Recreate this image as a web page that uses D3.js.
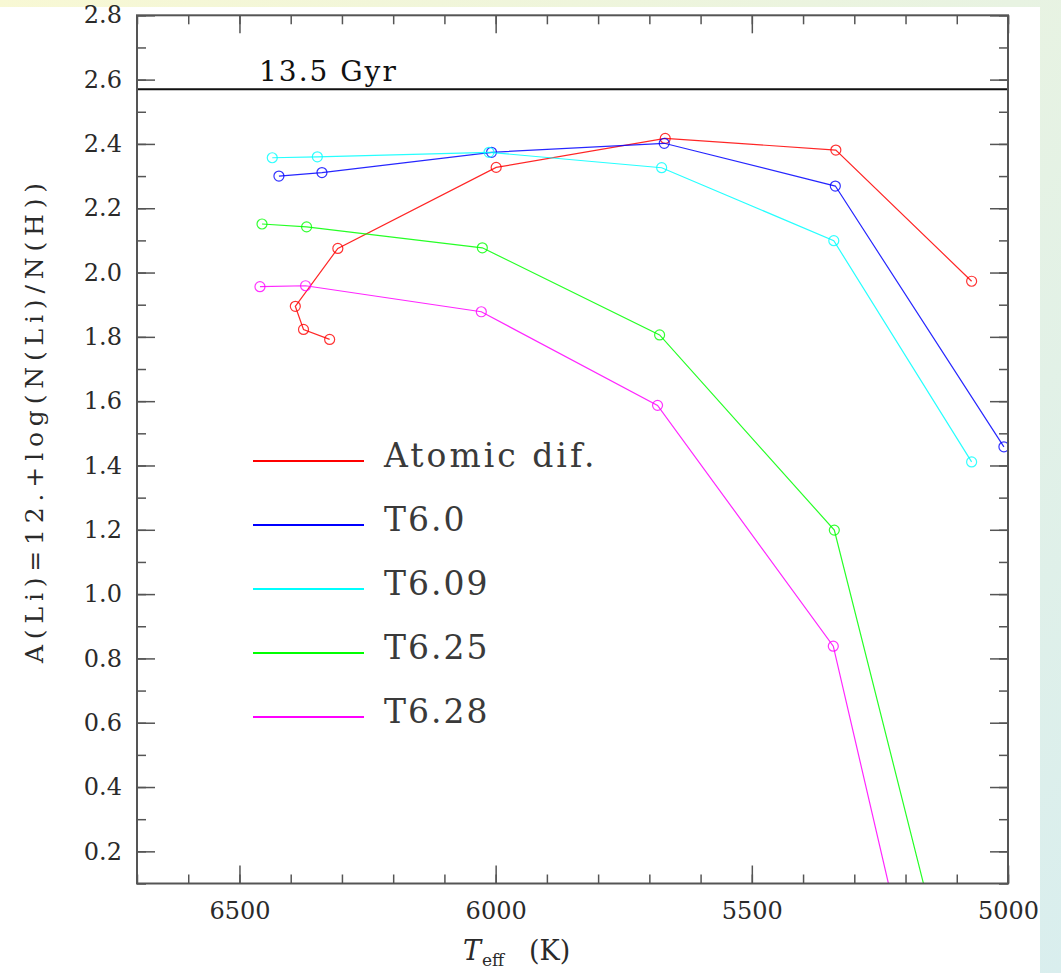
<!DOCTYPE html>
<html>
<head>
<meta charset="utf-8">
<script src="https://cdn.jsdelivr.net/npm/d3@7"></script>
<style>
  html, body { margin: 0; padding: 0; }
  body { width: 1061px; height: 973px; overflow: hidden;
         background: linear-gradient(135deg, #f8f8d4 0%, #e8f3e2 50%, #d9eeee 100%); }
  svg { display: block; }
  text { font-family: "DejaVu Serif", serif; fill: #2a2a2a; }
</style>
</head>
<body>
<svg id="chart" width="1061" height="973"></svg>
<script>
// ---- data ----
const seriesNames = ["Atomic dif.", "T6.0", "T6.09", "T6.25", "T6.28"];
const seriesColors = ["#ff0000", "#0000ff", "#00ffff", "#00ff00", "#ff00ff"];

const teffAtomic = [6324, 6375, 6391, 6308, 5999, 5669, 5336, 5071];
const liAtomic   = [1.792, 1.823, 1.895, 2.075, 2.327, 2.417, 2.381, 1.973];

const teffT60 = [6423, 6339, 6008, 5671, 5337, 5008];
const liT60   = [2.300, 2.311, 2.374, 2.402, 2.269, 1.458];

const teffT609 = [6436, 6348, 6013, 5676, 5340, 5071];
const liT609   = [2.357, 2.360, 2.374, 2.326, 2.099, 1.411];

const teffT625 = [6456, 6369, 6026, 5680, 5339, 5070];
const liT625   = [2.151, 2.142, 2.077, 1.806, 1.199, -0.50];

const teffT628 = [6460, 6371, 6028, 5684, 5341, 5070];
const liT628   = [1.956, 1.959, 1.878, 1.587, 0.838, -1.02];

const ageLineValue = 2.57;
const ageLabel = "13.5 Gyr";

const xMajorTicks = [6500, 6000, 5500, 5000];
const xMinorTicks = d3.range(6700, 4999, -100);
const yMajorTicks = [0.2, 0.4, 0.6, 0.8, 1.0, 1.2, 1.4, 1.6, 1.8, 2.0, 2.2, 2.4, 2.6, 2.8];
const yMinorTicks = d3.range(1, 29).map(d => d / 10);

const xLabelMain = "T", xLabelSub = "eff", xLabelUnit = "(K)";
const yLabel = "A(Li)=12.+log(N(Li)/N(H))";

// ---- layout ----
const svg = d3.select("#chart");
const L = 137, R = 1008, T = 15.3, B = 883.5;

svg.append("rect").attr("x", 0).attr("y", 7).attr("width", 1040).attr("height", 966).attr("fill", "#ffffff");

const x = d3.scaleLinear().domain([6700, 5000]).range([L, R]);
const y = d3.scaleLinear().domain([0.1, 2.8]).range([B, T]);

svg.append("defs").append("clipPath").attr("id", "plotclip")
  .append("rect").attr("x", L).attr("y", T).attr("width", R - L).attr("height", B - T);

const series = [
  { t: teffAtomic, v: liAtomic },
  { t: teffT60, v: liT60 },
  { t: teffT609, v: liT609 },
  { t: teffT625, v: liT625 },
  { t: teffT628, v: liT628 }
].map((s, i) => ({ name: seriesNames[i], color: seriesColors[i],
                   pts: s.t.map((t, j) => ({ t, v: s.v[j] })) }));

const plot = svg.append("g").attr("clip-path", "url(#plotclip)");
const line = d3.line().x(d => x(d.t)).y(d => y(d.v));

series.forEach(s => {
  plot.append("path").datum(s.pts).attr("d", line)
    .attr("fill", "none").attr("stroke", s.color).attr("stroke-width", 1.2).attr("opacity", 0.85);
  plot.selectAll(null).data(s.pts).enter().append("circle")
    .attr("cx", d => x(d.t)).attr("cy", d => y(d.v)).attr("r", 5)
    .attr("fill", "none").attr("stroke", s.color).attr("stroke-width", 1.2).attr("opacity", 0.8);
});

// age line
svg.append("line").attr("x1", L).attr("x2", R).attr("y1", y(ageLineValue)).attr("y2", y(ageLineValue))
  .attr("stroke", "#111").attr("stroke-width", 2);
svg.append("text").attr("x", 259).attr("y", 81).attr("font-size", 28).attr("letter-spacing", 2)
  .style("fill", "#111").text(ageLabel);

// axes with ticks on all sides
const axisColor = "#555";
function addAxis(axisFn, scale, transform, ticks, size, labels) {
  const a = axisFn(scale).tickValues(ticks).tickSize(size).tickSizeOuter(0);
  if (!labels) a.tickFormat("");
  else a.tickFormat(d3.format(labels)).tickPadding(labels === ".1f" ? 15 : 14);
  const g = svg.append("g").attr("transform", transform).call(a);
  g.select(".domain").remove();
  g.selectAll(".tick line").attr("stroke", axisColor).attr("stroke-width", 1.5);
  g.selectAll(".tick text").attr("font-size", 24).attr("font-family", "DejaVu Serif").style("fill", "#2a2a2a");
  return g;
}
// bottom
addAxis(d3.axisTop, x, `translate(0,${B})`, xMinorTicks, 9);
addAxis(d3.axisTop, x, `translate(0,${B})`, xMajorTicks, 18);
addAxis(d3.axisBottom, x, `translate(0,${B})`, xMajorTicks, 0, "d").selectAll(".tick text").attr("dy", "0.9em");
// top
addAxis(d3.axisBottom, x, `translate(0,${T})`, xMinorTicks, 9);
addAxis(d3.axisBottom, x, `translate(0,${T})`, xMajorTicks, 18);
// left
addAxis(d3.axisRight, y, `translate(${L},0)`, yMinorTicks, 9);
addAxis(d3.axisRight, y, `translate(${L},0)`, yMajorTicks, 18);
addAxis(d3.axisLeft, y, `translate(${L},0)`, yMajorTicks, 0, ".1f");
// right
addAxis(d3.axisLeft, y, `translate(${R},0)`, yMinorTicks, 9);
addAxis(d3.axisLeft, y, `translate(${R},0)`, yMajorTicks, 18);

// frame
svg.append("rect").attr("x", L).attr("y", T).attr("width", R - L).attr("height", B - T)
  .attr("fill", "none").attr("stroke", axisColor).attr("stroke-width", 2);

// axis labels
const xl = svg.append("text").attr("y", 960).attr("font-size", 27);
xl.append("tspan").attr("x", 463).attr("font-style", "italic").text(xLabelMain);
xl.append("tspan").attr("x", 482).attr("dy", 6).attr("font-size", 17).text(xLabelSub);
xl.append("tspan").attr("x", 529).attr("dy", -6).text(xLabelUnit);

svg.append("text").attr("transform", "translate(43,663) rotate(-90)")
  .attr("font-size", 25).attr("textLength", 480).attr("lengthAdjust", "spacing").text(yLabel);

// legend
const legend = svg.append("g");
series.forEach((s, i) => {
  const ly = 461 + i * 64;
  legend.append("line").attr("x1", 253).attr("x2", 364).attr("y1", ly).attr("y2", ly)
    .attr("stroke", s.color).attr("stroke-width", 2);
  legend.append("text").attr("x", 384).attr("y", ly + 6).attr("font-size", 33)
    .attr("letter-spacing", i === 0 ? 3 : 2).style("fill", "#3a3a3a").text(s.name);
});
</script>
</body>
</html>
